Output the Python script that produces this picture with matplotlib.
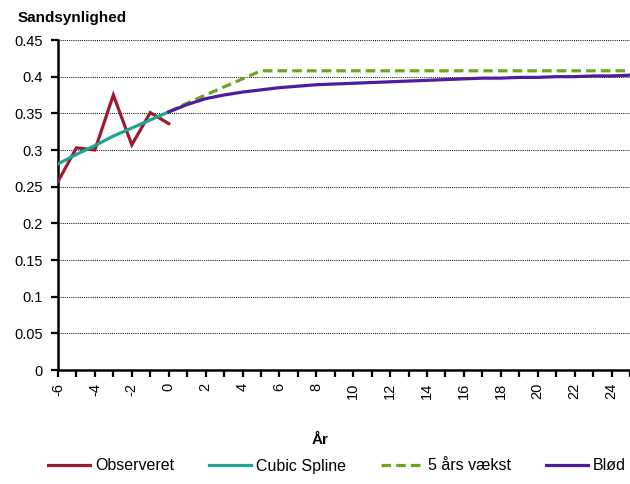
import matplotlib
matplotlib.use("Agg")
import matplotlib.pyplot as plt
from matplotlib.ticker import FixedLocator
from matplotlib.lines import Line2D

plt.rcParams['font.family'] = ['Liberation Sans', 'DejaVu Sans']

# Data
obs_years = [-6, -5, -4, -3, -2, -1, 0]
obs_vals = [0.257, 0.303, 0.300, 0.375, 0.307, 0.351, 0.336]

spline_years = [-6, -5, -4, -3, -2, -1, 0]
spline_vals = [0.281, 0.294, 0.306, 0.319, 0.330, 0.341, 0.352]

growth_years = list(range(0, 26))
growth_vals = [0.352, 0.364, 0.375, 0.386, 0.397, 0.408] + [0.408] * 20

smooth_years = list(range(0, 26))
smooth_vals = [0.352, 0.362, 0.370, 0.375, 0.379, 0.382, 0.385, 0.387, 0.389,
               0.390, 0.391, 0.392, 0.393, 0.394, 0.395, 0.396, 0.397, 0.398,
               0.398, 0.399, 0.399, 0.400, 0.400, 0.401, 0.401, 0.402]

y_ticks = [0, 0.05, 0.1, 0.15, 0.2, 0.25, 0.3, 0.35, 0.4, 0.45]
y_ticklabels = ['0', '0.05', '0.1', '0.15', '0.2', '0.25', '0.3', '0.35', '0.4', '0.45']
x_ticks = list(range(-6, 25, 2))

labels = ['Observeret', 'Cubic Spline', '5 års vækst', 'Blød']
colors = ['#9E1A2E', '#1FA395', '#6FA51E', '#4E1C9E']

W, H = 630, 484
fig = plt.figure(figsize=(W / 100, H / 100), dpi=100)
ax = fig.add_axes([58 / W, 1 - 370 / H, 1 - 58 / W, 330 / H])

lw = 2.3
dash = (0, (3, 1.6))
ax.plot(obs_years, obs_vals, color=colors[0], lw=lw, zorder=3, solid_joinstyle='miter')
ax.plot(spline_years, spline_vals, color=colors[1], lw=lw, zorder=4)
ax.plot(growth_years, growth_vals, color=colors[2], lw=lw, ls=dash, zorder=3)
ax.plot(smooth_years, smooth_vals, color=colors[3], lw=lw, zorder=4)

ax.set_xlim(-6, 25)
ax.set_ylim(0, 0.45)

ax.set_yticks(y_ticks)
ax.set_yticklabels(y_ticklabels)
ax.yaxis.grid(True, color='black', ls=(0, (1, 1.2)), lw=0.7)
ax.set_axisbelow(True)

ax.set_xticks(x_ticks)
ax.set_xticklabels([str(v) for v in x_ticks], rotation=90)
ax.xaxis.set_minor_locator(FixedLocator(list(range(-5, 26, 2))))

for s in ['top', 'right']:
    ax.spines[s].set_visible(False)
for s in ['left', 'bottom']:
    ax.spines[s].set_linewidth(1.8)
    ax.spines[s].set_color('black')

ax.tick_params(axis='both', which='both', direction='out', length=5, width=1.6,
               color='black', labelsize=10.5)
ax.tick_params(axis='x', which='both', pad=4)
ax.tick_params(axis='y', pad=6)

fig.text(18 / W, 1 - 18 / H, 'Sandsynlighed', fontsize=11, fontweight='bold',
         ha='left', va='center')
fig.text(320 / W, 1 - 440 / H, 'År', fontsize=11, fontweight='bold',
         ha='center', va='center')

handles = [
    Line2D([], [], color=colors[0], lw=lw),
    Line2D([], [], color=colors[1], lw=lw),
    Line2D([], [], color=colors[2], lw=lw, ls=dash),
    Line2D([], [], color=colors[3], lw=lw),
]
fig.legend(handles, labels, loc='center left', bbox_to_anchor=(48 / W, 1 - 466 / H),
           ncol=4, frameon=False, fontsize=11.5, handlelength=2.63,
           handletextpad=0.3, columnspacing=2.2, borderaxespad=0, borderpad=0)

fig.savefig('out.png', dpi=100)
